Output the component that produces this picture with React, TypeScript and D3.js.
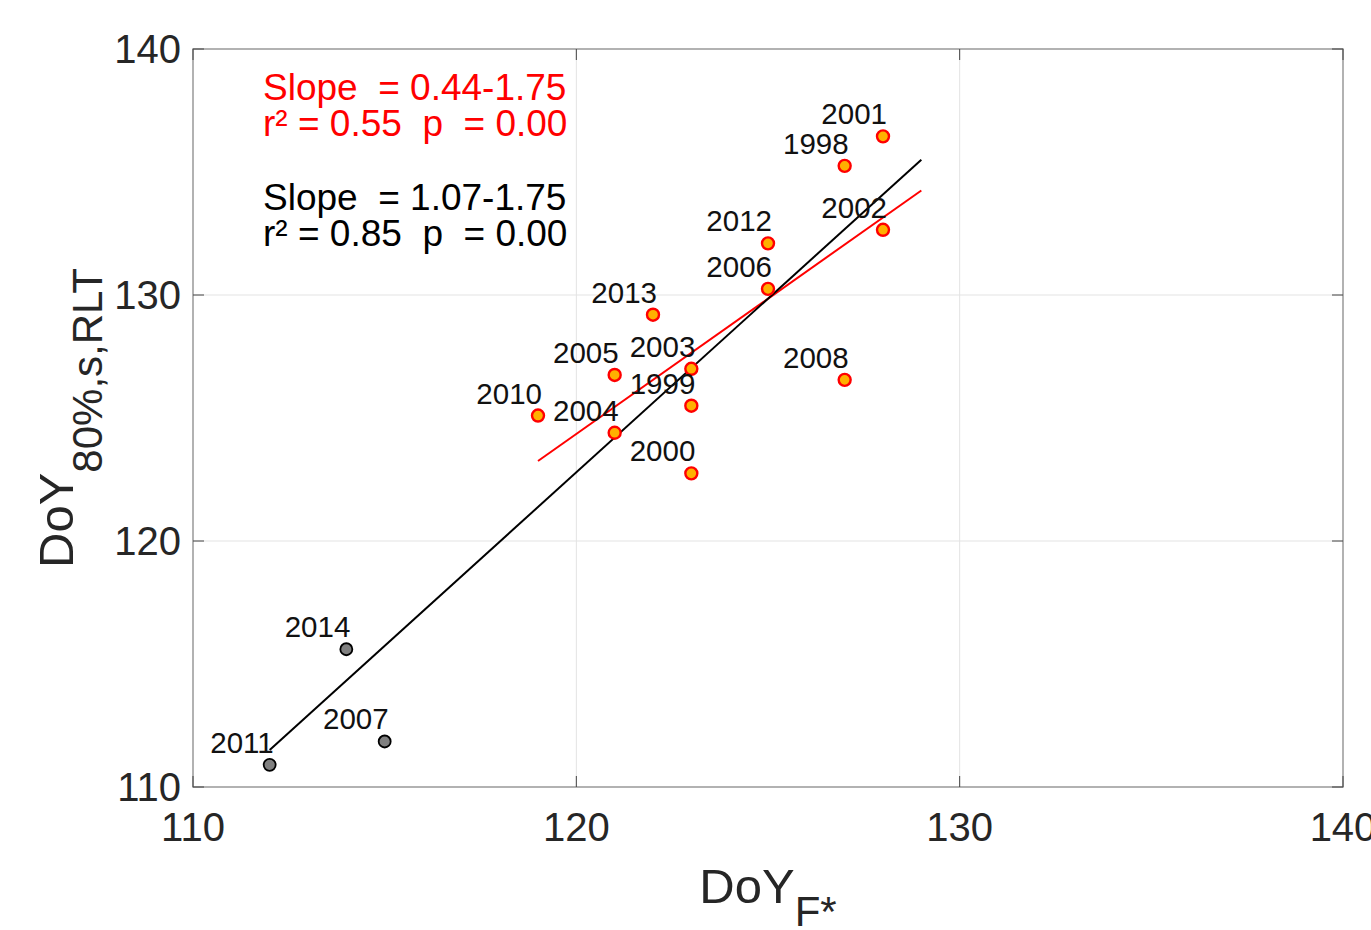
import React from 'react'
import * as d3 from 'd3'

// years, DoY F* (x) and DoY 80%,s,RLT (y)
const years = ['2001', '1998', '2002', '2012', '2006', '2013', '2005', '2003', '1999', '2010', '2004', '2000', '2008']
const xVals = [128, 127, 128, 125, 125, 122, 121, 123, 123, 119, 121, 123, 127]
const yVals = [136.45, 135.25, 132.65, 132.1, 130.25, 129.2, 126.75, 127.0, 125.5, 125.1, 124.4, 122.75, 126.55]

const grayYears = ['2014', '2007', '2011']
const grayX = [114, 115, 112]
const grayY = [115.6, 111.85, 110.9]

// fitted lines: [x0, y0, x1, y1]
const redFit = [119, 123.25, 129, 134.25]
const blackFit = [112, 111.5, 129, 135.5]

const xTicks = [110, 120, 130, 140]
const yTicks = [110, 120, 130, 140]

const redText = ['Slope  = 0.44-1.75', 'r² = 0.55  p  = 0.00']
const blackText = ['Slope  = 1.07-1.75', 'r² = 0.85  p  = 0.00']

const W = 1371
const H = 930
const margin = { top: 49, right: 28, bottom: 143, left: 193 }
const font = '"Liberation Sans", Arial, sans-serif'
const txt = '#262626'
const keepSpaces = (s: string) => s.replace(/ /g, '\u00a0')

export default function App() {
  const x = d3.scaleLinear().domain([110, 140]).range([margin.left, W - margin.right])
  const y = d3.scaleLinear().domain([110, 140]).range([H - margin.bottom, margin.top])
  const [x0, x1] = x.range()
  const [y0, y1] = y.range()
  const tick = 11

  return (
    <svg width={W} height={H} style={{ position: 'absolute', left: 0, top: 0, background: '#fff' }}
      fontFamily={font}>
      {/* grid */}
      {xTicks.slice(1, -1).map(t => (
        <line key={'gx' + t} x1={x(t)} x2={x(t)} y1={y1} y2={y0} stroke="#e3e3e3" strokeWidth={1} />
      ))}
      {yTicks.slice(1, -1).map(t => (
        <line key={'gy' + t} x1={x0} x2={x1} y1={y(t)} y2={y(t)} stroke="#e3e3e3" strokeWidth={1} />
      ))}
      {/* box */}
      <rect x={x0} y={y1} width={x1 - x0} height={y0 - y1} fill="none" stroke="#999" strokeWidth={1.5} />
      {xTicks.map(t => (
        <g key={'tx' + t}>
          <line x1={x(t)} x2={x(t)} y1={y0} y2={y0 - tick} stroke="#444" />
          <line x1={x(t)} x2={x(t)} y1={y1} y2={y1 + tick} stroke="#444" />
          <text x={x(t)} y={y0 + 54} textAnchor="middle" fontSize={40} fill={txt}>{t}</text>
        </g>
      ))}
      {yTicks.map(t => (
        <g key={'ty' + t}>
          <line x1={x0} x2={x0 + tick} y1={y(t)} y2={y(t)} stroke="#444" />
          <line x1={x1} x2={x1 - tick} y1={y(t)} y2={y(t)} stroke="#444" />
          <text x={x0 - 12} y={y(t) + 14} textAnchor="end" fontSize={40} fill={txt}>{t}</text>
        </g>
      ))}

      {/* axis labels */}
      <text x={768} y={903} textAnchor="middle" fill={txt} fontSize={49}>
        DoY<tspan fontSize={42} dy={23}>F*</tspan>
      </text>
      <text transform="translate(73,418) rotate(-90)" textAnchor="middle" fill={txt} fontSize={49}>
        DoY<tspan fontSize={42} dy={29}>80%,s,RLT</tspan>
      </text>

      {/* fit lines */}
      <line x1={x(redFit[0])} y1={y(redFit[1])} x2={x(redFit[2])} y2={y(redFit[3])} stroke="#ff0000" strokeWidth={2} />
      <line x1={x(blackFit[0])} y1={y(blackFit[1])} x2={x(blackFit[2])} y2={y(blackFit[3])} stroke="#000" strokeWidth={2} />

      {/* points */}
      {years.map((yr, i) => (
        <g key={yr}>
          <circle cx={x(xVals[i])} cy={y(yVals[i])} r={6} fill="#ffb000" stroke="#ff0000" strokeWidth={2.4} />
          <text x={x(xVals[i]) + 4} y={y(yVals[i]) - 12} textAnchor="end" fontSize={29.5} fill="#111">{yr}</text>
        </g>
      ))}
      {grayYears.map((yr, i) => (
        <g key={yr}>
          <circle cx={x(grayX[i])} cy={y(grayY[i])} r={6} fill="#808080" stroke="#000" strokeWidth={1.8} />
          <text x={x(grayX[i]) + 4} y={y(grayY[i]) - 12} textAnchor="end" fontSize={29.5} fill="#111">{yr}</text>
        </g>
      ))}

      {/* stats text */}
      <g fontSize={37}>
        {redText.map((s, i) => (
          <text key={'r' + i} x={263} y={100 + i * 36} fill="#ff0000">{keepSpaces(s)}</text>
        ))}
        {blackText.map((s, i) => (
          <text key={'b' + i} x={263} y={210 + i * 36} fill="#000">{keepSpaces(s)}</text>
        ))}
      </g>
    </svg>
  )
}
